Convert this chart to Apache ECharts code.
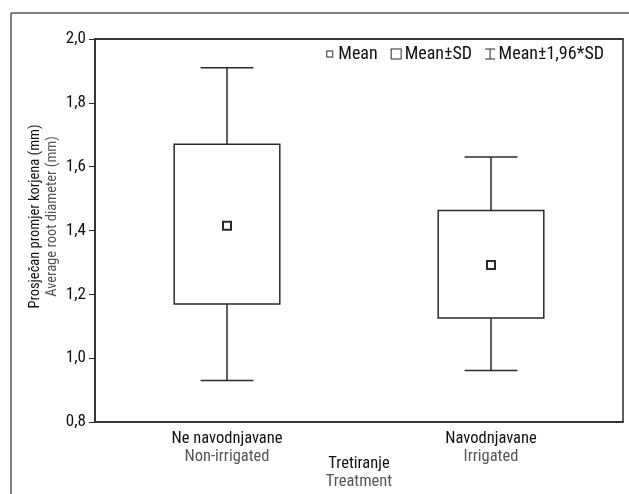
<!DOCTYPE html>
<html>
<head>
<meta charset="utf-8">
<script src="https://cdn.jsdelivr.net/npm/echarts@6/dist/echarts.min.js"></script>
<style>
  html, body { margin: 0; padding: 0; background: #fff; }
  #container { width: 629px; height: 494px; }
</style>
</head>
<body>
<div id="container"></div>
<script>
// kategorije (hr / en)
var catHr = ['Ne navodnjavane', 'Navodnjavane'];
var catEn = ['Non-irrigated', 'Irrigated'];
// vrijednosti ocitane sa slike
var means = [1.415, 1.292];
var sdLow = [1.17, 1.126];
var sdHigh = [1.67, 1.463];
var ciLow = [0.93, 0.961];
var ciHigh = [1.91, 1.63];
var yTicks = [0.8, 1.0, 1.2, 1.4, 1.6, 1.8, 2.0];

var font = '"Liberation Sans Narrow", "Roboto Condensed", "Liberation Sans", sans-serif';
var ink = '#2a2a2a';

var boxData = [];
var whiskerData = [];
var meanData = [];
for (var i = 0; i < catHr.length; i++) {
  boxData.push([i, sdLow[i], sdHigh[i]]);
  whiskerData.push([i, ciLow[i], sdLow[i], sdHigh[i], ciHigh[i]]);
  meanData.push([i, means[i]]);
}

function renderBox(params, api) {
  var x = api.value(0);
  var lo = api.coord([x, api.value(1)]);
  var hi = api.coord([x, api.value(2)]);
  var bw = api.size([1, 0])[0] * 0.4;
  return {
    type: 'rect',
    shape: { x: lo[0] - bw / 2, y: hi[1], width: bw, height: lo[1] - hi[1] },
    style: { fill: '#fff', stroke: ink, lineWidth: 1.5 }
  };
}

function renderWhisker(params, api) {
  var x = api.value(0);
  var p0 = api.coord([x, api.value(1)]);
  var p1 = api.coord([x, api.value(2)]);
  var p2 = api.coord([x, api.value(3)]);
  var p3 = api.coord([x, api.value(4)]);
  var cw = api.size([1, 0])[0] * 0.2;
  var st = { stroke: ink, lineWidth: 1.5 };
  return {
    type: 'group',
    children: [
      { type: 'line', shape: { x1: p0[0], y1: p0[1], x2: p1[0], y2: p1[1] }, style: st },
      { type: 'line', shape: { x1: p2[0], y1: p2[1], x2: p3[0], y2: p3[1] }, style: st },
      { type: 'line', shape: { x1: p0[0] - cw / 2, y1: p0[1], x2: p0[0] + cw / 2, y2: p0[1] }, style: st },
      { type: 'line', shape: { x1: p3[0] - cw / 2, y1: p3[1], x2: p3[0] + cw / 2, y2: p3[1] }, style: st }
    ]
  };
}

var chart = echarts.init(document.getElementById('container'));

var richCat = {
  a: { fontFamily: font, fontSize: 16.5, color: '#111', lineHeight: 18 },
  b: { fontFamily: font, fontSize: 16.5, color: '#555', lineHeight: 18 }
};
var richY = {
  a: { fontFamily: font, fontSize: 14.5, color: '#111', lineHeight: 17 },
  b: { fontFamily: font, fontSize: 14.5, color: '#555', lineHeight: 17 }
};

var option = {
  animation: false,
  textStyle: { fontFamily: font, color: ink },
  graphic: [
    { type: 'line', shape: { x1: 11, y1: 13, x2: 629, y2: 13 }, style: { stroke: '#555', lineWidth: 1.5 } },
    { type: 'line', shape: { x1: 11, y1: 13, x2: 11, y2: 494 }, style: { stroke: '#555', lineWidth: 1.5 } }
  ],
  legend: {
    top: 40,
    right: 20,
    itemWidth: 11,
    itemHeight: 11,
    itemGap: 13,
    selectedMode: false,
    textStyle: { fontFamily: font, fontSize: 18, color: '#111', padding: [0, 0, 0, -2] },
    data: [
      { name: 'Mean', icon: 'path://M0,0M11,11M2,2H9V9H2ZM3,3V8H8V3Z', itemStyle: { color: ink, borderWidth: 0 } },
      { name: 'Mean±SD', icon: 'path://M0,0H11V11H0ZM1,1V10H10V1Z', itemStyle: { color: ink, borderWidth: 0 } },
      { name: 'Mean±1,96*SD', icon: 'path://M0,0H10V1H5.5V10H10V11H0V10H4.5V1H0Z', itemStyle: { color: ink, borderWidth: 0 } }
    ]
  },
  grid: {
    left: 95, top: 39, right: 6, bottom: 72,
    outerBoundsMode: 'none',
    show: true, borderColor: ink, borderWidth: 1.5, backgroundColor: 'transparent'
  },
  xAxis: [
    {
      type: 'category',
      data: catHr,
      axisLine: { lineStyle: { color: ink, width: 1.5 } },
      axisTick: { inside: true, alignWithLabel: true, length: 5, lineStyle: { color: ink } },
      axisLabel: {
        margin: 8,
        formatter: function (v, idx) {
          return '{a|' + catHr[idx] + '}\n{b|' + catEn[idx] + '}';
        },
        rich: richCat
      },
      name: '{a|Tretiranje}\n{b|Treatment}',
      nameLocation: 'middle',
      nameGap: 33,
      nameMoveOverlap: false,
      nameTextStyle: { rich: richCat }
    },
    {
      type: 'category',
      position: 'top',
      data: catHr,
      axisLine: { lineStyle: { color: ink, width: 1.5 } },
      axisTick: { inside: true, alignWithLabel: true, length: 5, lineStyle: { color: ink } },
      axisLabel: { show: false }
    }
  ],
  yAxis: {
    type: 'value',
    min: 0.8,
    max: 2.0,
    interval: 0.2,
    axisLine: { show: true, lineStyle: { color: ink, width: 1.5 } },
    axisTick: { show: true, length: 6, lineStyle: { color: ink } },
    splitLine: { show: false },
    axisLabel: {
      fontFamily: font,
      fontSize: 17,
      color: '#111',
      margin: 9,
      formatter: function (v) {
        var t = yTicks.find(function (k) { return Math.abs(k - v) < 1e-6; });
        return (t !== undefined ? t : v).toFixed(1).replace('.', ',');
      }
    },
    name: '{a|Prosječan promjer korjena (mm)}\n{b|Average root diameter (mm)}',
    nameLocation: 'middle',
    nameRotate: 90,
    nameGap: 34,
    nameMoveOverlap: false,
    nameTextStyle: { rich: richY, padding: [0, 0, 0, 28] }
  },
  series: [
    {
      name: 'Mean±1,96*SD',
      type: 'custom',
      renderItem: renderWhisker,
      encode: { x: 0, y: [1, 2, 3, 4] },
      itemStyle: { color: ink },
      z: 1,
      data: whiskerData
    },
    {
      name: 'Mean±SD',
      type: 'custom',
      renderItem: renderBox,
      encode: { x: 0, y: [1, 2] },
      itemStyle: { color: '#fff', borderColor: ink },
      z: 2,
      data: boxData
    },
    {
      name: 'Mean',
      type: 'scatter',
      symbol: 'rect',
      symbolSize: 8,
      itemStyle: { color: '#fff', borderColor: ink, borderWidth: 2, opacity: 1 },
      z: 3,
      data: meanData
    }
  ]
};

chart.setOption(option);
window.onresize = function () { chart.resize(); };
</script>
</body>
</html>
